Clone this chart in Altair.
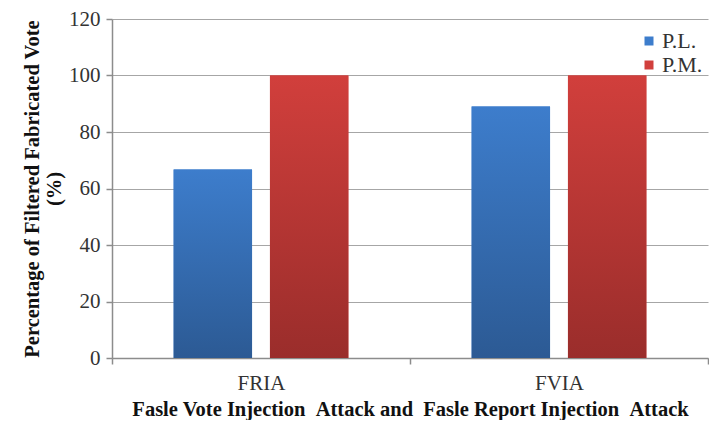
import altair as alt
import pandas as pd

# Attack scenarios and filtering percentages for the two schemes
categories = ["FRIA", "FVIA"]
series = ["P.L.", "P.M."]
pl_values = [66.7, 89.0]
pm_values = [100.0, 100.0]

rows = []
for i, cat in enumerate(categories):
    rows.append({"attack": cat, "scheme": series[0], "value": pl_values[i]})
    rows.append({"attack": cat, "scheme": series[1], "value": pm_values[i]})
df = pd.DataFrame(rows)

FONT = "Liberation Serif"
BLUE_TOP, BLUE_BOT = "#3d7dcc", "#2c5a94"
RED_TOP, RED_BOT = "#d13f3c", "#9a2d2b"
NB2 = "\u00a0\u00a0"  # wide word gap that survives SVG whitespace collapsing

x_title = (
    "Fasle Vote Injection" + NB2 + "Attack and" + NB2
    + "Fasle Report Injection" + NB2 + "Attack"
)

x_enc = alt.X(
    "attack:N",
    sort=categories,
    scale=alt.Scale(paddingInner=0, paddingOuter=0),
    axis=alt.Axis(
        title=x_title,
        labelAngle=0,
        tickBand="extent",
        tickSize=6,
        labelPadding=8,
        titlePadding=6,
        grid=False,
    ),
)
xoff_enc = alt.XOffset(
    "scheme:N", sort=series, scale=alt.Scale(paddingInner=0.186, paddingOuter=0.64)
)
y_enc = alt.Y(
    "value:Q",
    scale=alt.Scale(domain=[0, 120]),
    axis=alt.Axis(
        values=[0, 20, 40, 60, 80, 100, 120],
        title=["Percentage of Filtered Fabricated Vote", "(%)"],
        tickSize=6,
        labelPadding=6,
        titlePadding=4,
    ),
)

# Base layer carries the legend
legend_layer = alt.Chart(df).mark_bar().encode(
    x=x_enc,
    xOffset=xoff_enc,
    y=y_enc,
    color=alt.Color(
        "scheme:N",
        sort=series,
        scale=alt.Scale(domain=series, range=[BLUE_TOP, RED_TOP]),
        legend=alt.Legend(
            title=None,
            orient="none",
            legendX=526,
            legendY=11,
            symbolType="square",
            symbolSize=81,
            symbolStrokeWidth=0,
            labelFont=FONT,
            labelFontSize=22,
            labelColor="#333333",
            rowPadding=2,
            labelOffset=2,
        ),
    ),
)


def gradient_bars(name, top, bottom):
    return (
        alt.Chart(df)
        .transform_filter(alt.datum.scheme == name)
        .mark_bar(
            color=alt.Gradient(
                gradient="linear",
                stops=[
                    alt.GradientStop(color=top, offset=0),
                    alt.GradientStop(color=bottom, offset=1),
                ],
                x1=0, x2=0, y1=0, y2=1,
            )
        )
        .encode(x=x_enc, xOffset=xoff_enc, y=y_enc)
    )


chart = (
    alt.layer(
        legend_layer,
        gradient_bars("P.L.", BLUE_TOP, BLUE_BOT),
        gradient_bars("P.M.", RED_TOP, RED_BOT),
    )
    .properties(
        width=596,
        height=339,
        padding={"left": 22, "top": 8, "right": 0, "bottom": 0},
    )
    .configure_view(stroke=None)
    .configure_axis(
        labelFont=FONT,
        titleFont=FONT,
        labelFontSize=21,
        titleFontSize=20.5,
        labelColor="#333333",
        titleColor="#111111",
        titleFontWeight="bold",
        domainColor="#8c8c8c",
        tickColor="#8c8c8c",
        gridColor="#a6a6a6",
        domainWidth=1.5,
        tickWidth=1.5,
    )
)

chart.save("out.html", embed_options={"renderer": "svg", "actions": False})
